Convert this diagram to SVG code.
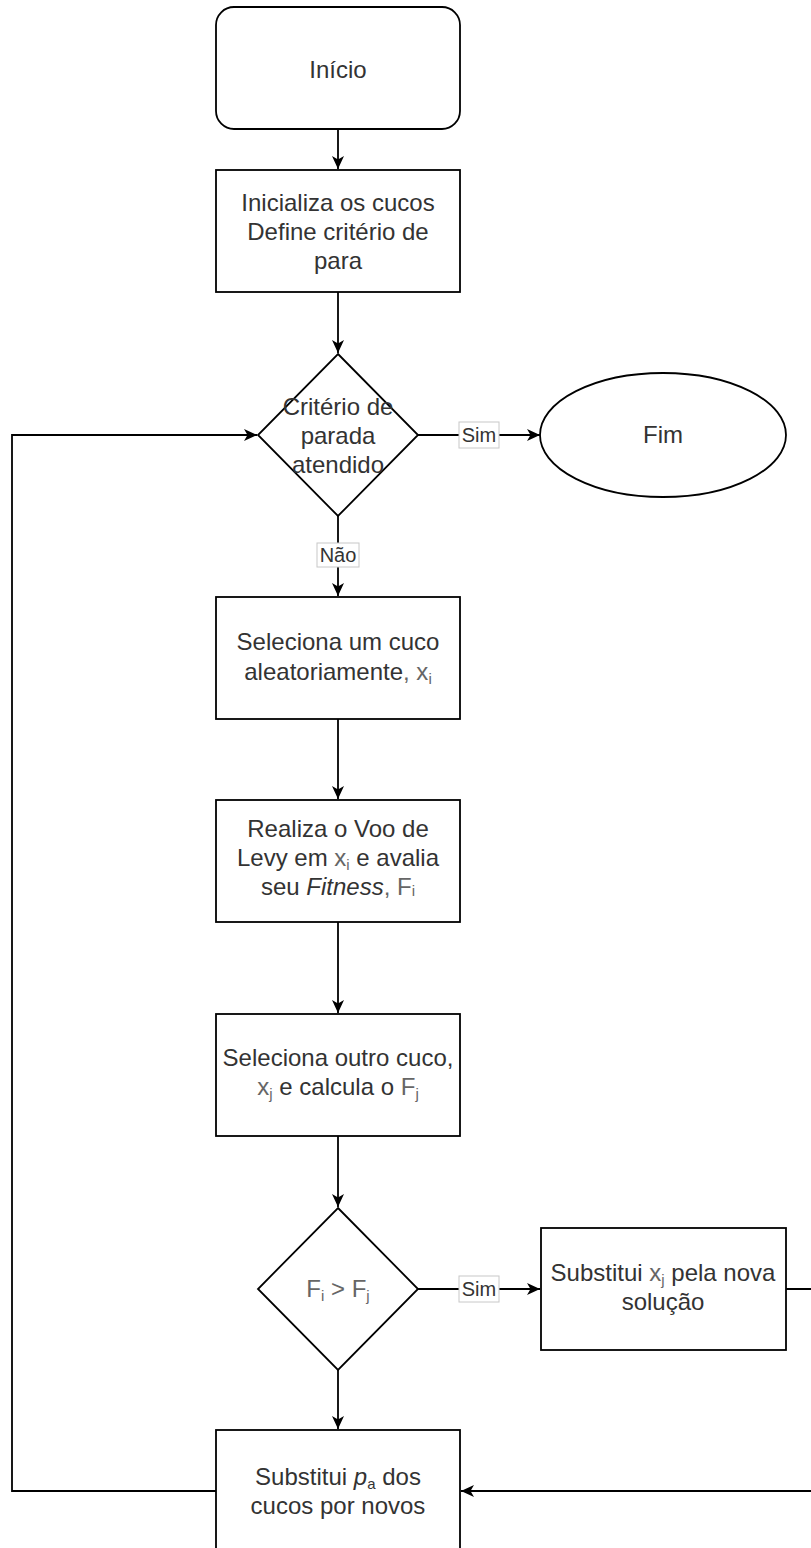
<svg xmlns="http://www.w3.org/2000/svg" width="811" height="1548" viewBox="0 0 811 1548">
<defs>
<style>
.n{fill:#fff;stroke:#000;stroke-width:1.8}
.t{font-family:"Liberation Sans",Arial,sans-serif;font-size:24px;fill:#333;text-anchor:middle}
.m{fill:#666}
.e{fill:none;stroke:#000;stroke-width:1.8}
.lb{fill:#fff;stroke:#c8c8c8;stroke-width:1}
.lt{font-family:"Liberation Sans",Arial,sans-serif;font-size:20px;fill:#333;text-anchor:middle}
</style>
<marker id="a" markerUnits="userSpaceOnUse" markerWidth="14" markerHeight="14" refX="13" refY="7" orient="auto">
<path d="M0,1 L13,7 L0,13 L3.5,7 z" fill="#000"/>
</marker>
</defs>
<rect width="811" height="1548" fill="#fff"/>
<g id="connectors">
<path class="e" d="M338,129 V169" marker-end="url(#a)"/>
<path class="e" d="M338,292 V353" marker-end="url(#a)"/>
<path class="e" d="M418,435 H540" marker-end="url(#a)"/>
<path class="e" d="M338,516 V596" marker-end="url(#a)"/>
<path class="e" d="M338,719 V799" marker-end="url(#a)"/>
<path class="e" d="M338,922 V1013" marker-end="url(#a)"/>
<path class="e" d="M338,1136 V1207" marker-end="url(#a)"/>
<path class="e" d="M418,1289 H540" marker-end="url(#a)"/>
<path class="e" d="M338,1370 V1429" marker-end="url(#a)"/>
<path class="e" d="M786,1289 H815 V1491 H461" marker-end="url(#a)"/>
<path class="e" d="M216,1491 H12 V435 H257" marker-end="url(#a)"/>
<g id="label-sim1">
<rect class="lb" x="459" y="422" width="40" height="26"/>
<text class="lt" x="479" y="442">Sim</text>
</g>
<g id="label-nao">
<rect class="lb" x="317" y="543" width="42" height="24"/>
<text class="lt" x="338" y="562">Não</text>
</g>
<g id="label-sim2">
<rect class="lb" x="459" y="1276" width="40" height="26"/>
<text class="lt" x="479" y="1296">Sim</text>
</g>
</g>
<g id="inicio">
<rect class="n" x="216" y="7" width="244" height="122" rx="18" ry="18"/>
<text class="t" x="338" y="78">Início</text>
</g>
<g id="inicializa">
<rect class="n" x="216" y="170" width="244" height="122"/>
<text class="t" x="338" y="211">Inicializa os cucos</text>
<text class="t" x="338" y="240">Define critério de</text>
<text class="t" x="338" y="269">para</text>
</g>
<g id="criterio">
<polygon class="n" points="338,354 418,435 338,516 258,435"/>
<text class="t" x="338" y="415">Critério de</text>
<text class="t" x="338" y="444">parada</text>
<text class="t" x="338" y="473">atendido</text>
</g>
<g id="fim">
<ellipse class="n" cx="663" cy="435" rx="123" ry="62"/>
<text class="t" x="663" y="443">Fim</text>
</g>
<g id="seleciona">
<rect class="n" x="216" y="597" width="244" height="122"/>
<text class="t" x="338" y="650">Seleciona um cuco</text>
<text class="t" x="338" y="680">aleatoriamente<tspan class="m">, x<tspan font-size="15" dy="4">i</tspan></tspan></text>
</g>
<g id="levy">
<rect class="n" x="216" y="800" width="244" height="122"/>
<text class="t" x="338" y="837">Realiza o Voo de</text>
<text class="t" x="338" y="866">Levy em <tspan class="m">x<tspan font-size="15" dy="4">i</tspan></tspan><tspan dy="-4"> e avalia</tspan></text>
<text class="t" x="338" y="895">seu <tspan font-style="italic">Fitness</tspan><tspan class="m">, F<tspan font-size="15" dy="1">i</tspan></tspan></text>
</g>
<g id="outro">
<rect class="n" x="216" y="1014" width="244" height="122"/>
<text class="t" x="338" y="1066">Seleciona outro cuco,</text>
<text class="t" x="338" y="1095"><tspan class="m">x<tspan font-size="15" dy="4">j</tspan></tspan><tspan dy="-4"> e calcula o </tspan><tspan class="m">F<tspan font-size="15" dy="4">j</tspan></tspan></text>
</g>
<g id="compara">
<polygon class="n" points="338,1208 418,1289 338,1370 258,1289"/>
<text class="t" x="338" y="1297"><tspan class="m">F<tspan font-size="15" dy="4">i</tspan><tspan dy="-4"> &gt; F</tspan><tspan font-size="15" dy="4">j</tspan></tspan></text>
</g>
<g id="substitui-xj">
<rect class="n" x="541" y="1228" width="245" height="122"/>
<text class="t" x="663" y="1281">Substitui <tspan class="m">x<tspan font-size="15" dy="4">j</tspan></tspan><tspan dy="-4"> pela nova</tspan></text>
<text class="t" x="663" y="1310">solução</text>
</g>
<g id="substitui-pa">
<rect class="n" x="216" y="1430" width="244" height="122"/>
<text class="t" x="338" y="1485">Substitui <tspan font-style="italic">p</tspan><tspan font-size="15" dy="4">a</tspan><tspan dy="-4"> dos</tspan></text>
<text class="t" x="338" y="1514">cucos por novos</text>
</g>
</svg>
